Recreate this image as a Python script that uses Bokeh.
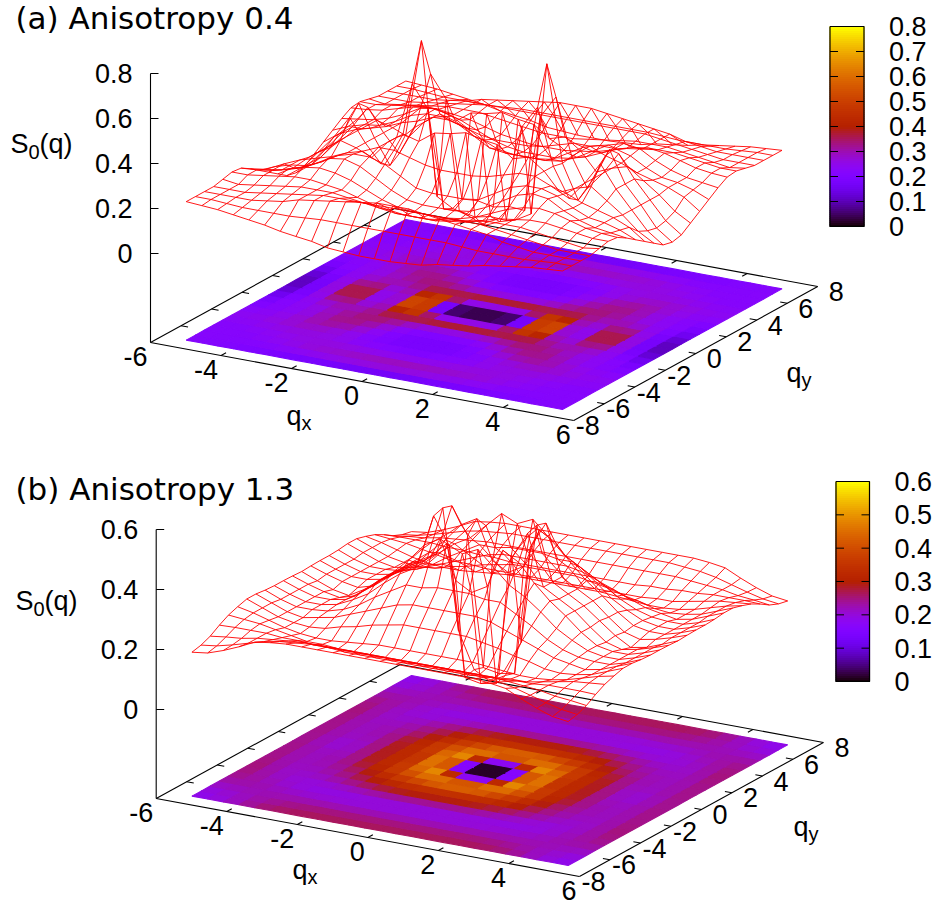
import numpy as np
from bokeh.plotting import figure
from bokeh.models import Range1d
from bokeh.core.properties import value
from bokeh.embed import file_html
from bokeh.resources import INLINE

# one quadrant of S0(q): rows |qy| = 0, 0.6 ... 7.2; columns |qx| = 0, 0.444 ... 5.33
QX = [0, .444, .889, 1.333, 1.778, 2.222, 2.667, 3.111, 3.556, 4.0, 4.444, 4.889, 5.333]
QY = [0, .6, 1.2, 1.8, 2.4, 3.0, 3.6, 4.2, 4.8, 5.4, 6.0, 6.6, 7.2]

S_A = [
 [.00,.03,.05,.09,.77,.34,.19,.30,.44,.30,.22,.13,.08],
 [.06,.075,.07,.50,.60,.35,.22,.30,.40,.30,.22,.14,.09],
 [.457,.44,.43,.38,.40,.35,.27,.30,.32,.27,.22,.16,.12],
 [.30,.30,.31,.33,.35,.35,.32,.30,.27,.25,.23,.20,.15],
 [.22,.22,.23,.27,.31,.33,.33,.31,.27,.24,.23,.21,.18],
 [.19,.19,.20,.23,.27,.31,.33,.32,.28,.25,.23,.22,.21],
 [.18,.18,.19,.21,.24,.27,.29,.30,.29,.27,.25,.24,.235],
 [.19,.19,.20,.21,.23,.25,.26,.27,.27,.26,.25,.24,.24],
 [.22,.22,.23,.24,.25,.26,.26,.26,.25,.24,.23,.22,.23],
 [.27,.27,.27,.27,.27,.27,.26,.25,.24,.23,.22,.22,.22],
 [.31,.31,.30,.29,.28,.27,.26,.24,.23,.22,.22,.22,.22],
 [.22,.22,.22,.22,.22,.215,.21,.21,.21,.21,.215,.22,.22],
 [.12,.12,.125,.13,.146,.155,.165,.18,.19,.20,.21,.215,.22],
]
S_B = [
 [.00,.03,.15,.55,.37,.34,.31,.27,.23,.20,.21,.23,.251],
 [.01,.02,.45,.54,.37,.34,.31,.265,.225,.21,.22,.235,.253],
 [.33,.36,.49,.46,.40,.35,.31,.265,.23,.22,.22,.235,.254],
 [.476,.50,.45,.40,.37,.33,.285,.255,.23,.22,.22,.235,.254],
 [.37,.37,.36,.36,.33,.30,.265,.24,.225,.22,.22,.235,.256],
 [.32,.32,.32,.31,.29,.27,.25,.23,.22,.21,.22,.24,.26],
 [.27,.27,.27,.26,.25,.235,.225,.21,.205,.21,.22,.24,.26],
 [.21,.21,.21,.21,.205,.20,.195,.195,.20,.21,.225,.24,.251],
 [.195,.195,.195,.195,.195,.195,.20,.20,.21,.22,.23,.235,.24],
 [.21,.21,.21,.21,.21,.215,.215,.22,.22,.225,.225,.225,.223],
 [.24,.24,.24,.24,.24,.24,.24,.235,.23,.225,.215,.21,.203],
 [.26,.26,.26,.26,.26,.26,.255,.25,.24,.225,.21,.197,.19],
 [.268,.268,.268,.268,.268,.268,.268,.263,.255,.23,.208,.19,.183],
]
X_TICKS = [-6, -4, -2, 0, 2, 4, 6]
Y_TICKS = [-8, -6, -4, -2, 0, 2, 4, 6, 8]
Z_TICKS_A = [0, .2, .4, .6, .8]
Z_TICKS_B = [0, .2, .4, .6]
CB_TICKS_A = [0, .1, .2, .3, .4, .5, .6, .7, .8]
CB_TICKS_B = [0, .1, .2, .3, .4, .5, .6]
TITLE_A = "(a) Anisotropy 0.4"
TITLE_B = "(b) Anisotropy 1.3"

SANS = "Liberation Sans"
p = figure(width=936, height=905, x_range=Range1d(0, 936), y_range=Range1d(905, 0),
           x_axis_location=None, y_axis_location=None, toolbar_location=None,
           output_backend="svg", min_border=0, outline_line_color=None)
p.grid.visible = False


def palette(t):
    t = min(max(t, 0.0), 1.0)
    r = np.sqrt(t)
    g = t ** 3
    b = max(np.sin(2 * np.pi * t), 0.0)
    return "#%02x%02x%02x" % (int(r * 255 + .5), int(g * 255 + .5), int(b * 255 + .5))


def label(x, y, s, size=27, align="center", font=SANS):
    p.text(x=[x], y=[y], text=[s], text_font=value(font), text_font_size=value(f"{size}px"),
           text_align=align, text_baseline="middle", text_color="black")


def panel(org, zscale, zbase, rows, zticks, cbmax, cbticks, cbbox, title, title_y, slabel, qxpos, qypos):
    ox, oy = org

    def P(x, y, z=None):
        z = zbase if z is None else z
        return (ox + (np.asarray(x) + 6) * 35.27 + (np.asarray(y) + 8) * 15.25,
                oy + (np.asarray(x) + 6) * 6.5 - (np.asarray(y) + 8) * 8.375 - (np.asarray(z) - zbase) * zscale)

    def seg(a, b):
        xa, ya = a
        xb, yb = b
        p.line([xa, xb], [ya, yb], line_color="black", line_width=1.1)

    # base box
    c = {"l": P(-6, -8), "b": P(6, -8), "r": P(6, 8), "k": P(-6, 8)}
    seg(c["l"], c["b"]); seg(c["b"], c["r"]); seg(c["l"], c["k"]); seg(c["k"], c["r"])
    for t in X_TICKS[1:-1]:
        seg(P(t, -8), P(t, -8 + .33))
        seg(P(t, 8), P(t, 8 - .33))
    for t in Y_TICKS[1:-1]:
        seg(P(-6, t), P(-6 + .2, t))
        seg(P(6, t), P(6 - .2, t))
    for t in X_TICKS:
        xx, yy = P(t, -8)
        label(xx - 3, yy + 13.5, str(t), align="right")
    for t in Y_TICKS:
        xx, yy = P(6, t)
        label(xx + 26, yy + 5, str(t), align="right")

    # z axis
    zx, ztop = P(-6, -8, max(zticks))
    zx = float(zx)
    seg((zx, float(oy)), (zx, float(ztop)))
    for t in zticks:
        yy = float(P(-6, -8, t)[1])
        seg((zx, yy), (zx + 8, yy))
        label(zx - 18, yy, f"{t:g}", align="right")

    # surface, mirrored from the quadrant
    q = np.array(rows, dtype=float)
    full = np.vstack([q[:0:-1], q])
    full = np.hstack([full[:, :0:-1], full])
    xs = np.array([-v for v in QX[:0:-1]] + QX)
    ys = np.array([-v for v in QY[:0:-1]] + QY)
    n = len(xs)
    px, py, col = [], [], []
    for j in range(n - 1):
        for i in range(n - 1):
            a, b = P([xs[i], xs[i + 1], xs[i + 1], xs[i]], [ys[j], ys[j], ys[j + 1], ys[j + 1]])
            px.append(list(a)); py.append(list(b))
            col.append(palette(full[j:j + 2, i:i + 2].mean() / cbmax))
    p.patches(px, py, fill_color=col, line_color=col, line_width=1.1)

    mx, my = [], []
    for j in range(n):
        a, b = P(xs, np.full(n, ys[j]), full[j, :])
        mx.append(list(a)); my.append(list(b))
    for i in range(n):
        a, b = P(np.full(n, xs[i]), ys, full[:, i])
        mx.append(list(a)); my.append(list(b))
    p.multi_line(mx, my, line_color="#ff0000", line_width=.9)

    # colour box
    x0, x1, y0, y1 = cbbox   # y0 top, y1 bottom
    steps = 100
    edges = np.linspace(y1, y0, steps + 1)
    cols = [palette((k + .5) / steps) for k in range(steps)]
    p.quad(left=x0, right=x1, bottom=edges[:-1], top=edges[1:], fill_color=cols, line_color=cols, line_width=1.2)
    p.line([x0, x1, x1, x0, x0], [y0, y0, y1, y1, y0], line_color="black", line_width=1.2)
    for t in cbticks:
        yy = y1 + (y0 - y1) * t / cbmax
        if 0 < t < cbmax:
            p.line([x0, x0 + 8], [yy, yy], line_color="black", line_width=1)
            p.line([x1 - 8, x1], [yy, yy], line_color="black", line_width=1)
        label(x1 + 25, yy, f"{t:g}", align="left")

    # texts
    label(15, title_y, title, size=31, align="left", font="DejaVu Sans")
    sx, sy = slabel
    label(sx, sy, "S", align="left")
    label(sx + 18, sy + 8, "0", size=20, align="left")
    label(sx + 29, sy, "(q)", align="left")
    label(qxpos[0], qxpos[1], "q", align="left")
    label(qxpos[0] + 15, qxpos[1] + 7, "x", size=20, align="left")
    label(qypos[0], qypos[1], "q", align="left")
    label(qypos[0] + 15, qypos[1] + 7, "y", size=20, align="left")


panel((150, 342), 225, -.3956, S_A, Z_TICKS_A, .8, CB_TICKS_A, (829.5, 863.5, 26, 226),
      TITLE_A, 17, (10, 143), (286, 415), (786, 372))
panel((155.7, 798), 300, -.2967, S_B, Z_TICKS_B, .6, CB_TICKS_B, (835.5, 869, 481, 681),
      TITLE_B, 488, (15, 600), (292, 869), (793, 826))

open("out.html", "w").write(file_html(p, INLINE))
